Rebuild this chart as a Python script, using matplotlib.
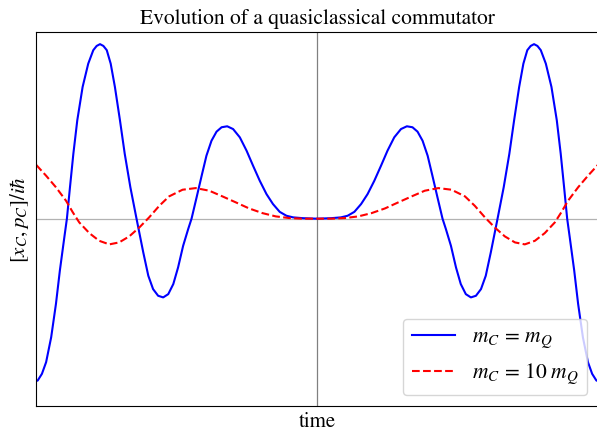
import matplotlib
matplotlib.use("Agg")
import matplotlib.pyplot as plt

plt.rcParams['font.family'] = ['STIXGeneral', 'DejaVu Serif']
plt.rcParams['mathtext.fontset'] = 'stix'

# time (normalised, centre = 0) and values
t_blue = [-1.000, -0.995, -0.980, -0.965, -0.947, -0.930, -0.916, -0.900, -0.891, -0.880,
          -0.868, -0.854, -0.835, -0.815, -0.797, -0.785, -0.773, -0.761, -0.749, -0.735,
          -0.720, -0.702,
          -0.685, -0.665, -0.643, -0.619, -0.601, -0.584, -0.566, -0.548, -0.530, -0.512,
          -0.495, -0.477, -0.459, -0.447, -0.429, -0.411, -0.394, -0.376, -0.358, -0.340,
          -0.320, -0.299, -0.275, -0.251, -0.228, -0.204, -0.180, -0.157, -0.133, -0.109,
          -0.085, -0.050, 0.0,
          0.050, 0.085, 0.109, 0.133, 0.157, 0.180, 0.204, 0.228, 0.251, 0.275,
          0.299, 0.320, 0.340, 0.358, 0.376, 0.394, 0.411, 0.429, 0.447, 0.459,
          0.477, 0.495, 0.512, 0.530, 0.548, 0.566, 0.584, 0.601, 0.619, 0.643,
          0.665, 0.685, 0.702, 0.720, 0.735, 0.749, 0.761, 0.773, 0.785, 0.797,
          0.815, 0.835, 0.854, 0.868, 0.880, 0.891, 0.900, 0.916, 0.930, 0.947,
          0.965, 0.980, 0.995, 1.000]
v_blue = [-0.998, -0.995, -0.954, -0.882, -0.729, -0.524, -0.318, -0.113, 0.000, 0.194,
          0.399, 0.605, 0.810, 0.953, 1.036, 1.062, 1.073, 1.062, 1.036, 0.953,
          0.810, 0.605,
          0.399, 0.194, 0.000, -0.207, -0.351, -0.433, -0.474, -0.484, -0.464, -0.402,
          -0.300, -0.167, -0.064, 0.000, 0.131, 0.264, 0.387, 0.479, 0.535, 0.562,
          0.568, 0.551, 0.500, 0.418, 0.326, 0.233, 0.151, 0.090, 0.042, 0.018,
          0.008, 0.003, 0.000,
          0.003, 0.008, 0.018, 0.042, 0.090, 0.151, 0.233, 0.326, 0.418, 0.500,
          0.551, 0.568, 0.562, 0.535, 0.479, 0.387, 0.264, 0.131, 0.000, -0.064,
          -0.167, -0.300, -0.402, -0.464, -0.484, -0.474, -0.433, -0.351, -0.207, 0.000,
          0.194, 0.399, 0.605, 0.810, 0.953, 1.036, 1.062, 1.073, 1.062, 1.036,
          0.953, 0.810, 0.605, 0.399, 0.194, 0.000, -0.113, -0.318, -0.524, -0.729,
          -0.882, -0.954, -0.995, -0.998]

t_red = [-1.000, -0.965, -0.930, -0.894, -0.870, -0.847, -0.811, -0.776, -0.740, -0.705,
         -0.669, -0.633, -0.598, -0.562, -0.527, -0.479, -0.432, -0.384, -0.337, -0.289,
         -0.242, -0.194, -0.147, -0.100, -0.052, 0.0,
         0.052, 0.100, 0.147, 0.194, 0.242, 0.289, 0.337, 0.384, 0.432, 0.479,
         0.527, 0.562, 0.598, 0.633, 0.669, 0.705, 0.740, 0.776, 0.811, 0.847,
         0.870, 0.894, 0.930, 0.965, 1.000]
v_red = [0.330, 0.264, 0.193, 0.110, 0.039, -0.023, -0.089, -0.136, -0.158, -0.146,
         -0.109, -0.054, 0.008, 0.079, 0.137, 0.178, 0.188, 0.172, 0.137, 0.100,
         0.063, 0.034, 0.014, 0.004, 0.000, 0.000,
         0.000, 0.004, 0.014, 0.034, 0.063, 0.100, 0.137, 0.172, 0.188, 0.178,
         0.137, 0.079, 0.008, -0.054, -0.109, -0.146, -0.158, -0.136, -0.089, -0.023,
         0.039, 0.110, 0.193, 0.264, 0.330]

labels = [r'$m_C\,=\,m_Q$', r'$m_C\,=\,10\;m_Q$']

fig = plt.figure(figsize=(5.97, 4.35), dpi=100)
ax = fig.add_axes([0.0608, 0.065, 0.9405, 0.860])
ax.axhline(0, color='gray', lw=0.9, alpha=0.6)
ax.axvline(0, color='gray', lw=0.9)
ax.plot(t_blue, v_blue, color='blue', lw=1.5, label=labels[0])
ax.plot(t_red, v_red, color='red', lw=1.5, ls='--', label=labels[1])
ax.set_xlim(-1.0, 1.0)
ax.set_ylim(-1.15, 1.15)
ax.set_xticks([])
ax.set_yticks([])
ax.set_title('Evolution of a quasiclassical commutator', fontsize=15.5, pad=6)
ax.set_xlabel('time', fontsize=15, labelpad=4)
ax.set_ylabel(r'$[x_C, p_C]/i\hbar$', fontsize=15, labelpad=4)
ax.legend(loc='lower right', fontsize=15.5)
fig.savefig('out.png', dpi=100)
